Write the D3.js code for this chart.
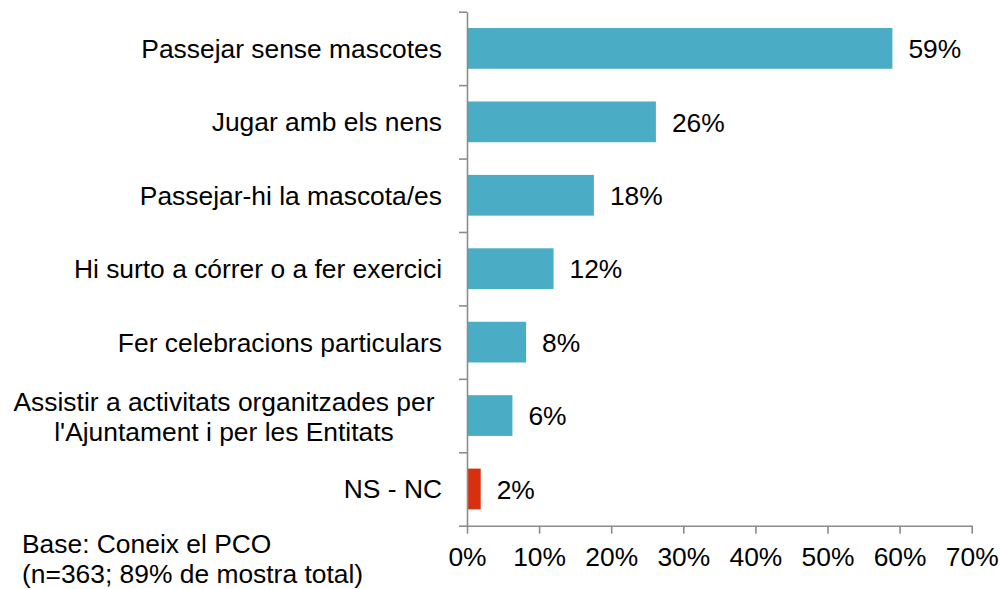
<!DOCTYPE html>
<html>
<head>
<meta charset="utf-8">
<script src="https://cdn.jsdelivr.net/npm/d3@7"></script>
<style>
	body { margin: 0; background: #fff; }
	svg text { font-family: "Liberation Sans", Arial, sans-serif; fill: #000; }
</style>
</head>
<body>
<div id="chart"></div>
<script>
//chart data
const categories = [
	"Passejar sense mascotes",
	"Jugar amb els nens",
	"Passejar-hi la mascota/es",
	"Hi surto a córrer o a fer exercici",
	"Fer celebracions particulars",
	"Assistir a activitats organitzades per\nl'Ajuntament i per les Entitats",
	"NS - NC"
];
const values = [59.0, 26.2, 17.6, 12.0, 8.2, 6.3, 1.9];
const barColors = ["#4bacc6", "#4bacc6", "#4bacc6", "#4bacc6", "#4bacc6", "#4bacc6", "#d8300f"];
const xTicks = [0, 10, 20, 30, 40, 50, 60, 70];
const footnote = ["Base: Coneix el PCO", "(n=363; 89% de mostra total)"];

const width = 1000, height = 589;
const plotLeft = 467, plotRight = 971.7, plotTop = 11.7, plotBottom = 525.7;
const fontSize = 26.4;
const axisColor = "#8c8c8c";

var svg = d3.select("#chart").append("svg")
	.attr("width", width)
	.attr("height", height);

//scales
var x = d3.scaleLinear().domain([0, 70]).range([plotLeft, plotRight]);
var y = d3.scaleBand().domain(categories).range([plotTop, plotBottom])
	.paddingInner(0.445).paddingOuter(0.2225);
//band edges for the category ticks
var yEdge = d3.scaleLinear().domain([0, categories.length]).range([plotTop, plotBottom]);

//bars
svg.selectAll(".bar")
	.data(values)
	.enter().append("rect")
	.attr("class", "bar")
	.attr("x", x(0))
	.attr("y", (d, i) => y(categories[i]))
	.attr("width", d => x(d) - x(0))
	.attr("height", y.bandwidth())
	.style("fill", (d, i) => barColors[i]);

//value labels
svg.selectAll(".valueLabel")
	.data(values)
	.enter().append("text")
	.attr("class", "valueLabel")
	.attr("x", d => x(d) + 16)
	.attr("y", (d, i) => y(categories[i]) + y.bandwidth() / 2)
	.attr("dy", "0.37em")
	.style("font-size", fontSize + "px")
	.text(d => Math.round(d) + "%");

//x axis
var xAxis = svg.append("g")
	.attr("transform", `translate(0,${plotBottom})`)
	.call(d3.axisBottom(x).tickValues(xTicks).tickSize(8).tickPadding(14)
		.tickSizeOuter(0).tickFormat(d => d + "%"));
xAxis.selectAll("text").style("font-size", fontSize + "px");

//y axis, ticks on band edges
var yAxis = svg.append("g")
	.attr("transform", `translate(${plotLeft},0)`)
	.call(d3.axisLeft(yEdge).tickValues(d3.range(categories.length + 1))
		.tickSize(8).tickSizeOuter(0).tickFormat(""));

[xAxis, yAxis].forEach(g => {
	g.select(".domain").attr("stroke", axisColor).attr("stroke-width", 1.6);
	g.selectAll(".tick line").attr("stroke", axisColor).attr("stroke-width", 1.6);
});

//category labels (wrapped ones are centred like in excel)
categories.forEach((c, i) => {
	let lines = c.split("\n");
	let cy = y(c) + y.bandwidth() / 2;
	let t = svg.append("text")
		.style("font-size", fontSize + "px");
	if (lines.length == 1) {
		t.attr("x", 442).attr("y", cy).attr("dy", "0.36em")
			.attr("text-anchor", "end").text(c);
	} else {
		t.attr("text-anchor", "middle");
		lines.forEach((l, j) => {
			t.append("tspan")
				.attr("x", 224)
				.attr("y", cy + (j - (lines.length - 1) / 2) * 30 + 1)
				.attr("dy", "0.36em")
				.text(l);
		});
	}
});

//footnote
svg.append("text")
	.style("font-size", fontSize + "px")
	.selectAll("tspan")
	.data(footnote)
	.enter().append("tspan")
	.attr("x", 22)
	.attr("y", (d, i) => 553 + i * 30)
	.text(d => d);
</script>
</body>
</html>
